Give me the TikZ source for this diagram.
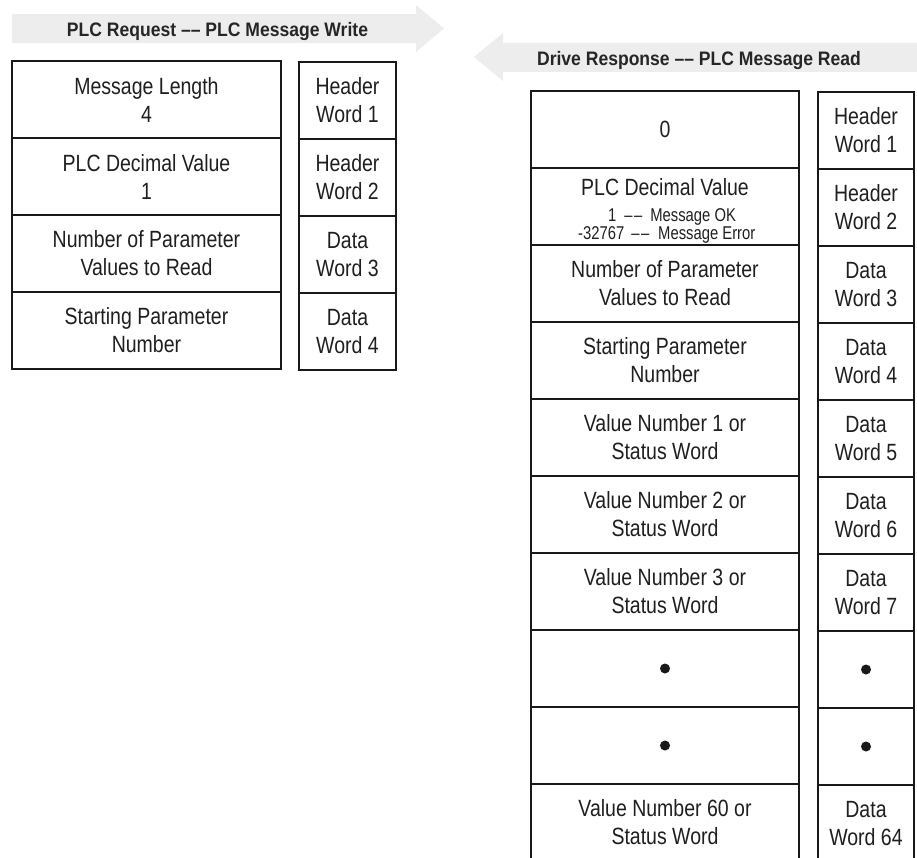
\documentclass[tikz,border=0pt]{standalone}
\usepackage{fontspec}
\setmainfont[FakeStretch=0.83]{Liberation Sans}
\newfontfamily\titlefont[FakeStretch=0.9]{Liberation Sans}
\newfontfamily\smallfont[FakeStretch=0.8]{Liberation Sans}
\begin{document}
\begin{tikzpicture}[x=1pt,y=-1pt,
  cell/.style={draw=black!90, line width=2pt, rectangle, inner sep=0pt, align=center,
    text=black!88, font=\fontsize{23.5}{28}\selectfont},
  maincol/.style={cell, minimum width=268pt, minimum height=77pt},
  wordcol/.style={cell, minimum width=96pt, minimum height=77pt},
  title/.style={inner sep=0pt, anchor=base, text=black!85, font=\titlefont\bfseries\fontsize{19.5}{22}\selectfont},
  small/.style={inner sep=0pt, anchor=base west, align=left, text=black!88, font=\smallfont\fontsize{18.5}{15}\selectfont},
  dot/.style={circle, fill=black!90, minimum size=10pt, inner sep=0pt}]
\useasboundingbox (0,0) rectangle (917,857);
% arrows
\fill[black!7] (12,14) -- (416,14) -- (416,5) -- (444,28.5) -- (416,52) -- (416,43) -- (12,43) -- cycle;
\fill[black!7] (917,43) -- (503,43) -- (503,33) -- (474,57) -- (503,81) -- (503,72) -- (917,72) -- cycle;
\node[title] (t1) at (217.5,36) {PLC Request –– PLC Message Write};
\node[title] (t2) at (699,65) {Drive Response –– PLC Message Read};
% left table
\node[maincol, minimum width=269pt] (l1) at (146.5,99.5) {Message Length\\4};
\node[maincol, minimum width=269pt] (l2) at (146.5,176.5) {PLC Decimal Value\\1};
\node[maincol, minimum width=269pt] (l3) at (146.5,253.5) {Number of Parameter\\Values to Read};
\node[maincol, minimum width=269pt] (l4) at (146.5,330.5) {Starting Parameter\\Number};
\node[wordcol, minimum width=97pt] (lw1) at (347.5,100.5) {Header\\Word 1};
\node[wordcol, minimum width=97pt] (lw2) at (347.5,177.5) {Header\\Word 2};
\node[wordcol, minimum width=97pt] (lw3) at (347.5,254.5) {Data\\Word 3};
\node[wordcol, minimum width=97pt] (lw4) at (347.5,331.5) {Data\\Word 4};
% right table
\node[maincol] (r1) at (665,129.5) {0};
\node[maincol] (r2) at (665,206.5) {};
\node[maincol] (r3) at (665,283.5) {Number of Parameter\\Values to Read};
\node[maincol] (r4) at (665,360.5) {Starting Parameter\\Number};
\node[maincol] (r5) at (665,437.5) {Value Number 1 or\\Status Word};
\node[maincol] (r6) at (665,514.5) {Value Number 2 or\\Status Word};
\node[maincol] (r7) at (665,591.5) {Value Number 3 or\\Status Word};
\node[maincol] (r8) at (665,668.5) {};
\node[maincol] (r9) at (665,745.5) {};
\node[maincol] (r10) at (665,822.5) {Value Number 60 or\\Status Word};
\node[wordcol] (rw1) at (866,130.5) {Header\\Word 1};
\node[wordcol] (rw2) at (866,207.5) {Header\\Word 2};
\node[wordcol] (rw3) at (866,284.5) {Data\\Word 3};
\node[wordcol] (rw4) at (866,361.5) {Data\\Word 4};
\node[wordcol] (rw5) at (866,438.5) {Data\\Word 5};
\node[wordcol] (rw6) at (866,515.5) {Data\\Word 6};
\node[wordcol] (rw7) at (866,592.5) {Data\\Word 7};
\node[wordcol] (rw8) at (866,669.5) {};
\node[wordcol] (rw9) at (866,746.5) {};
\node[wordcol] (rw10) at (866,823.5) {Data\\Word 64};
% PLC decimal value text
\node[cell, draw=none, anchor=base] (r2a) at (665,195) {PLC Decimal Value};
\node[small] (r2b) at (578,239) {\hspace{30pt}1\hspace{8pt}–\kern1.5pt–\hspace{8pt}Message OK\\-32767\hspace{7pt}–\kern1.5pt–\hspace{9pt}Message Error};
% dots
\node[dot] (d1) at (r8.center) {};
\node[dot] (d2) at (rw8.center) {};
\node[dot] (d3) at (r9.center) {};
\node[dot] (d4) at (rw9.center) {};
\end{tikzpicture}
\end{document}
